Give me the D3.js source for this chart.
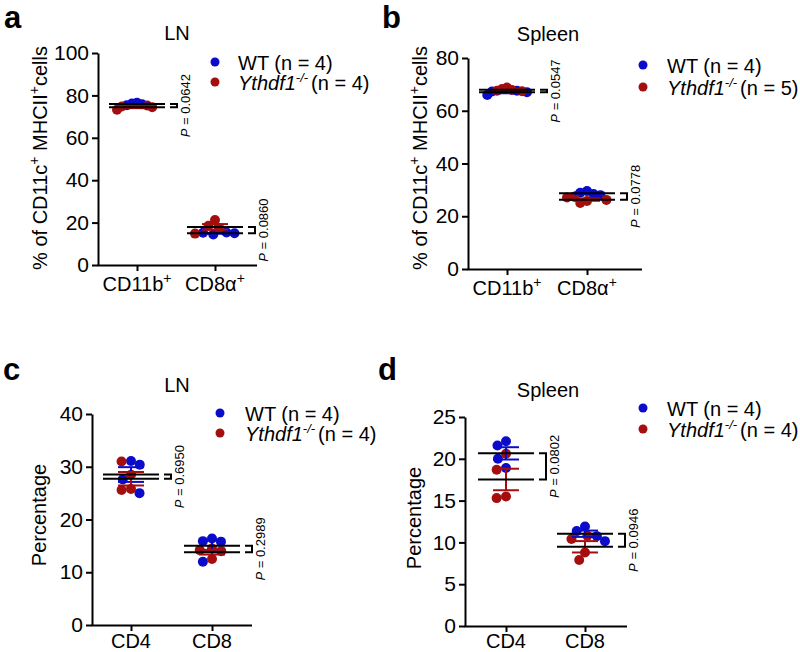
<!DOCTYPE html>
<html><head><meta charset="utf-8">
<script src="https://cdn.jsdelivr.net/npm/d3@7"></script>
<style>
body{margin:0;background:#fff}
svg{display:block}
text{font-family:Arial,"Liberation Sans",Helvetica,sans-serif;fill:#000}
</style>
</head><body>
<svg id="chart" width="800" height="652"></svg>
<script>
// ---------------- DATA ----------------
const seriesNames = ["WT", "Ythdf1"];
const dcCategories = ["CD11b", "CD8α"];   // panels a, b (with superscript +)
const tCategories = ["CD4", "CD8"];        // panels c, d

// Panel a: LN, % of CD11c+ MHCII+ cells
const aWT = [[76.2, 75.8, 76.5, 75.4], [15.2, 15.0, 14.4, 15.3]];
const aKO = [[74.8, 75.2, 73.2, 74.4], [21.2, 18.5, 17.4, 14.8]];
const aP = ["0.0642", "0.0860"];
const aTicks = [0, 20, 40, 60, 80, 100];

// Panel b: Spleen, % of CD11c+ MHCII+ cells
const bWT = [[67.3, 67.0, 67.6, 66.0], [29.6, 28.9, 28.4, 28.0]];
const bKO = [[68.2, 68.8, 67.6, 67.9, 67.4], [27.4, 26.2, 25.0, 25.8, 27.1]];
const bP = ["0.0547", "0.0778"];
const bTicks = [0, 20, 40, 60, 80];

// Panel c: LN, Percentage
const cWT = [[31.1, 30.4, 27.6, 25.0], [16.4, 15.9, 15.8, 12.0]];
const cKO = [[31.0, 28.5, 25.8, 25.6], [14.5, 14.2, 14.0, 12.5]];
const cP = ["0.6950", "0.2989"];
const cTicks = [0, 10, 20, 30, 40];

// Panel d: Spleen, Percentage
const dWT = [[22.1, 21.6, 20.0, 18.9], [11.9, 11.35, 10.75, 10.15]];
const dKO = [[20.6, 18.7, 15.3, 15.5], [10.8, 10.4, 8.8, 7.9]];
const dP = ["0.0802", "0.0946"];
const dTicks = [0, 5, 10, 15, 20, 25];

// ---------------- STYLE / LAYOUT ----------------
const BLUE = "#0b0bcb", RED = "#a50e0e";
const R = 5;
const MAXSPREAD = 20;
const svg = d3.select("#chart");

function swarm(points, d) {
  const placed = [];
  points.forEach(p => {
    const cands = [0];
    placed.forEach(q => {
      const dy = Math.abs(p.py - q.py);
      if (dy < d) {
        const dx = Math.sqrt(d * d - dy * dy);
        cands.push(q.dx + dx, q.dx - dx);
      }
    });
    cands.sort((u, v) => Math.abs(u) - Math.abs(v) || u - v);
    for (const c of cands) {
      if (placed.every(q => (q.dx - c) ** 2 + (q.py - p.py) ** 2 >= d * d - 0.01)) { p.dx = c; break; }
    }
    placed.push(p);
  });
  const m = d3.max(points, p => Math.abs(p.dx));
  if (m > MAXSPREAD) points.forEach(p => { p.dx *= MAXSPREAD / m; });
}

function drawPanel(cfg, data) {
  const g = svg.append("g");
  const y = d3.scaleLinear().domain([0, d3.max(data.ticks)]).range([cfg.yBot, cfg.yTop]);
  const x = d3.scalePoint().domain(data.cats).range(cfg.catRange);

  // panel letter & title
  g.append("text").attr("x", cfg.letter[1]).attr("y", cfg.letter[2])
    .attr("font-size", 31).attr("font-weight", "bold").text(cfg.letter[0]);
  g.append("text").attr("x", cfg.title[1]).attr("y", cfg.title[2])
    .attr("text-anchor", "middle").attr("font-size", 20).text(cfg.title[0]);

  // y axis
  const ya = g.append("g").attr("transform", `translate(${cfg.x0},0)`)
    .call(d3.axisLeft(y).tickValues(data.ticks).tickSize(6).tickSizeOuter(0).tickPadding(3).tickFormat(d3.format("d")));
  ya.select(".domain").attr("stroke-width", 2);
  ya.selectAll(".tick line").attr("stroke-width", 2);
  ya.selectAll(".tick text").attr("font-size", 21).attr("font-family", null).attr("fill", "#000");

  // x axis
  const xa = g.append("g").attr("transform", `translate(0,${cfg.yBot})`)
    .call(d3.axisBottom(x).tickSize(6).tickSizeOuter(0).tickFormat(""));
  xa.select(".domain").remove();
  xa.selectAll(".tick line").attr("stroke-width", 2);
  xa.append("line").attr("x1", cfg.x0 - 0.5).attr("x2", cfg.x1).attr("y1", 0.5).attr("y2", 0.5)
    .attr("stroke", "#000").attr("stroke-width", 2);
  data.cats.forEach(c => {
    const t = g.append("text").attr("x", x(c)).attr("y", cfg.yBot + cfg.catDy)
      .attr("text-anchor", "middle").attr("font-size", 20);
    t.append("tspan").text(c);
    if (data.catSup) t.append("tspan").attr("dy", -8).attr("font-size", 14).text(data.catSup);
  });

  // y label
  const yl = g.append("text").attr("transform", `translate(${cfg.ylab[0]},${cfg.ylab[1]}) rotate(-90)`)
    .attr("text-anchor", "middle").attr("dy", "0.35em").attr("font-size", 20);
  let shift = 0;
  data.ylabel.forEach(([s, sup]) => {
    const ts = yl.append("tspan").text(s);
    if (sup) { ts.attr("dy", -8 - shift).attr("font-size", 14); shift = -8; }
    else if (shift) { ts.attr("dy", -shift); shift = 0; }
  });

  // data
  data.cats.forEach((c, i) => {
    const cx = x(c);
    const pts = [];
    data.wt[i].forEach(v => pts.push({ v, s: 0 }));
    data.ko[i].forEach(v => pts.push({ v, s: 1 }));
    pts.forEach(p => { p.py = y(p.v); p.dx = 0; });
    swarm(pts.slice().sort((a, b) => a.py - b.py), 2 * R * 0.95);

    [0, 1].forEach(s => {
      g.selectAll(null).data(pts.filter(p => p.s === s)).join("circle")
        .attr("cx", p => cx + p.dx).attr("cy", p => p.py).attr("r", R)
        .attr("fill", s ? RED : BLUE);
    });
    const stats = [data.wt[i], data.ko[i]].map(a => ({ m: d3.mean(a), e: d3.deviation(a) / Math.sqrt(a.length) }));
    stats.forEach((st, s) => {
      const col = s ? RED : BLUE;
      const eb = g.append("g").attr("stroke", col).attr("stroke-width", 2);
      eb.append("line").attr("x1", cx).attr("x2", cx).attr("y1", y(st.m - st.e)).attr("y2", y(st.m + st.e));
      [st.m - st.e, st.m + st.e].forEach(v => eb.append("line")
        .attr("x1", cx - 13).attr("x2", cx + 13).attr("y1", y(v)).attr("y2", y(v)));
    });
    stats.forEach(st => g.append("line").attr("x1", cx - 28).attr("x2", cx + 28)
      .attr("y1", y(st.m)).attr("y2", y(st.m)).attr("stroke", "#000").attr("stroke-width", 2));
    const y1 = y(stats[0].m), y2 = y(stats[1].m);
    g.append("path").attr("d", `M${cx + 33},${y1}H${cx + 40}V${y2}H${cx + 33}`)
      .attr("fill", "none").attr("stroke", "#000").attr("stroke-width", 2);
    const pt = g.append("text").attr("transform", `translate(${cx + 48},${(y1 + y2) / 2}) rotate(-90)`)
      .attr("text-anchor", "middle").attr("dy", "0.35em").attr("font-size", 13);
    pt.append("tspan").attr("font-style", "italic").text("P");
    pt.append("tspan").text(" = " + data.p[i]);
  });

  // legend
  const [lx, ly0, ly1, tx] = cfg.legend;
  g.append("circle").attr("cx", lx).attr("cy", ly0).attr("r", 4.5).attr("fill", BLUE);
  g.append("circle").attr("cx", lx).attr("cy", ly1).attr("r", 4.5).attr("fill", RED);
  g.append("text").attr("x", tx).attr("y", ly0 + 8).attr("font-size", 20)
    .text(`${seriesNames[0]} (n = ${data.wt[0].length})`);
  const t2 = g.append("text").attr("x", tx).attr("y", ly1 + 8).attr("font-size", 20);
  t2.append("tspan").attr("font-style", "italic").text(seriesNames[1]);
  t2.append("tspan").attr("font-style", "italic").attr("font-size", 13).attr("dy", -8).text("-/-");
  t2.append("tspan").attr("dy", 8).attr("dx", 3).text(`(n = ${data.ko[0].length})`);
}

const dcLabel = [["% of CD11c", false], ["+", true], [" MHCII", false], ["+", true], ["cells", false]];
const pctLabel = [["Percentage", false]];

drawPanel(
  { letter: ["a", 4, 28], title: ["LN", 177, 40], x0: 98, x1: 257, yTop: 53, yBot: 265, catDy: 26,
    catRange: [137, 215], ylab: [40, 158], legend: [215, 62, 82, 238] },
  { cats: dcCategories, catSup: "+", wt: aWT, ko: aKO, p: aP, ticks: aTicks, ylabel: dcLabel });
drawPanel(
  { letter: ["b", 382, 28], title: ["Spleen", 548, 41], x0: 468, x1: 642, yTop: 58, yBot: 269, catDy: 26,
    catRange: [507, 587], ylab: [420, 158], legend: [643, 65, 87, 667] },
  { cats: dcCategories, catSup: "+", wt: bWT, ko: bKO, p: bP, ticks: bTicks, ylabel: dcLabel });
drawPanel(
  { letter: ["c", 3, 380], title: ["LN", 177, 392], x0: 92, x1: 252, yTop: 414, yBot: 625, catDy: 23,
    catRange: [131, 212], ylab: [39, 515], legend: [220, 413, 433, 245] },
  { cats: tCategories, catSup: null, wt: cWT, ko: cKO, p: cP, ticks: cTicks, ylabel: pctLabel });
drawPanel(
  { letter: ["d", 378, 380], title: ["Spleen", 548, 397], x0: 465, x1: 627, yTop: 417, yBot: 626, catDy: 22,
    catRange: [506, 585], ylab: [414, 518], legend: [643, 408, 429, 667] },
  { cats: tCategories, catSup: null, wt: dWT, ko: dKO, p: dP, ticks: dTicks, ylabel: pctLabel });
</script>
</body></html>
